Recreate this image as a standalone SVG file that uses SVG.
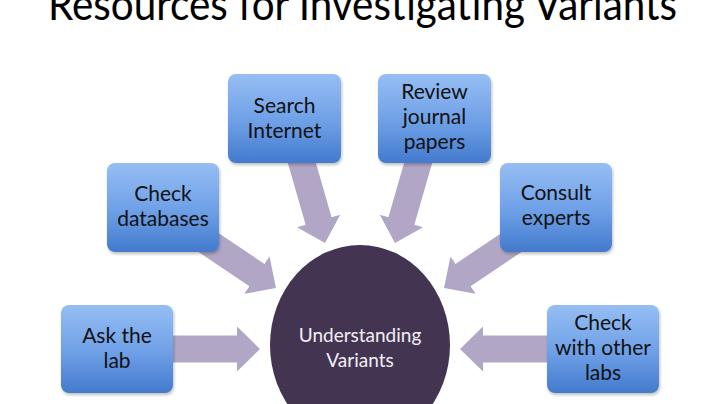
<svg xmlns="http://www.w3.org/2000/svg" xmlns:xlink="http://www.w3.org/1999/xlink" width="720" height="404" viewBox="0 0 720 404">
  <style>
    .box { fill: url(#boxGrad); filter: url(#shadow); }
    .lbl { font-family: Lato, "Liberation Sans", sans-serif; font-size: 21px; fill: #111111; text-anchor: middle; }
    .clbl { font-family: Lato, "Liberation Sans", sans-serif; font-size: 19px; fill: #f2eff6; text-anchor: middle; }
    .arrow { fill: #b2a6c7; }
    .title { font-family: Lato, "Liberation Sans", sans-serif; font-size: 44px; fill: #000000; }
  </style>
  <defs>
    <linearGradient id="boxGrad" x1="0" y1="0" x2="0" y2="1">
      <stop offset="0" stop-color="#96bef4"/>
      <stop offset="0.55" stop-color="#6d9fe6"/>
      <stop offset="1" stop-color="#437acd"/>
    </linearGradient>
    <filter id="shadow" x="-10%" y="-10%" width="125%" height="125%">
      <feDropShadow dx="1" dy="2" stdDeviation="1.5" flood-color="#000000" flood-opacity="0.25"/>
    </filter>
    <path id="arr" d="M-100,-13.5 L-23,-13.5 L-23,-22.5 L0,0 L-23,22.5 L-23,13.5 L-100,13.5 Z"/>
  </defs>

  <rect x="0" y="0" width="720" height="404" fill="#ffffff"/>

  <text class="title" x="48" y="20" textLength="629" lengthAdjust="spacingAndGlyphs">Resources for Investigating Variants</text>

  <g id="connectors">
    <use xlink:href="#arr" href="#arr" class="arrow" transform="translate(260,349)"/>
    <use xlink:href="#arr" href="#arr" class="arrow" transform="translate(460,349) rotate(180)"/>
    <use xlink:href="#arr" href="#arr" class="arrow" transform="translate(276,288) rotate(34)"/>
    <use xlink:href="#arr" href="#arr" class="arrow" transform="translate(444,288) rotate(146)"/>
    <use xlink:href="#arr" href="#arr" class="arrow" transform="translate(325,243) rotate(73.9)"/>
    <use xlink:href="#arr" href="#arr" class="arrow" transform="translate(395,243) rotate(106.1)"/>
  </g>

  <g id="understanding-variants">
    <ellipse cx="360" cy="345" rx="90" ry="100" fill="#433551"/>
    <text class="clbl" x="360" y="342">Understanding</text>
    <text class="clbl" x="360" y="367">Variants</text>
  </g>

  <g id="search-internet">
    <rect class="box" x="228" y="74" width="113" height="89" rx="8"/>
    <text class="lbl" x="284.5" y="113">Search</text>
    <text class="lbl" x="284.5" y="138">Internet</text>
  </g>

  <g id="review-journal-papers">
    <rect class="box" x="378" y="74" width="113" height="89" rx="8"/>
    <text class="lbl" x="434.5" y="99">Review</text>
    <text class="lbl" x="434.5" y="124">journal</text>
    <text class="lbl" x="434.5" y="149">papers</text>
  </g>

  <g id="check-databases">
    <rect class="box" x="107" y="163" width="112" height="89" rx="8"/>
    <text class="lbl" x="163" y="201">Check</text>
    <text class="lbl" x="163" y="226">databases</text>
  </g>

  <g id="consult-experts">
    <rect class="box" x="500" y="163" width="112" height="89" rx="8"/>
    <text class="lbl" x="556" y="200">Consult</text>
    <text class="lbl" x="556" y="225">experts</text>
  </g>

  <g id="ask-the-lab">
    <rect class="box" x="61" y="305" width="112" height="88" rx="8"/>
    <text class="lbl" x="117" y="343">Ask the</text>
    <text class="lbl" x="117" y="368">lab</text>
  </g>

  <g id="check-with-other-labs">
    <rect class="box" x="547" y="305" width="112" height="88" rx="8"/>
    <text class="lbl" x="603" y="330">Check</text>
    <text class="lbl" x="603" y="355">with other</text>
    <text class="lbl" x="603" y="380">labs</text>
  </g>
</svg>
